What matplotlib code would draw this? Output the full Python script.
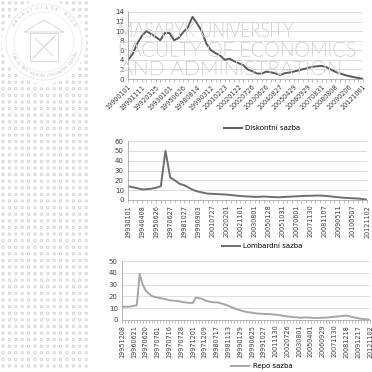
import numpy as np
import matplotlib
matplotlib.use("Agg")
import matplotlib.pyplot as plt
from matplotlib.textpath import TextPath
from matplotlib.patches import PathPatch, Circle, Polygon, Rectangle
from matplotlib.font_manager import FontProperties
from matplotlib.transforms import Affine2D

# discount rate (%), one value per category, label every 3rd category
disk_labels = ["19900101", "19901111", "19920325", "19930101", "19950626", "19980814",
               "19990312", "20010223", "20020122", "20020726", "20030626", "20040827",
               "20050429", "20060929", "20070831", "20080808", "20090206", "20121001"]
disk_values = [4, 5.2, 7.4, 9, 10, 9.4, 8.8, 8.1, 9.6, 9.6, 8.1, 8.6, 9.8, 10.8, 13,
               11.6, 10, 7.4, 6, 5.4, 4.9, 4, 4.25, 3.75, 3.3, 2.9, 2, 1.6, 1.15, 1.1,
               1.55, 1.4, 1.15, 0.85, 1.2, 1.35, 1.55, 1.8, 2.05, 2.3, 2.55, 2.65, 2.75,
               2.5, 2.0, 1.5, 1.15, 0.85, 0.6, 0.4, 0.2, 0.05]

# lombard rate (%)
lomb_labels = ["19930101", "19940408", "19950626", "19970627", "19981027", "19990903",
               "20010727", "20020201", "20021101", "20030801", "20050128", "20051031",
               "20070601", "20071130", "20081107", "20090511", "20100507", "20121102"]
lomb_values = [14, 13, 12, 10.75, 11, 11.5, 12.5, 14, 50, 23, 20, 16.5, 15, 12.5, 10,
               8.5, 7.5, 6.5, 6.25, 6, 5.75, 5.5, 5, 4.5, 4, 3.75, 3.5, 3.25, 3.25, 3.5,
               3.25, 3, 2.75, 3, 3.25, 3.5, 3.75, 4, 4.25, 4.25, 4.5, 4.5, 4.25, 3.75,
               3.25, 2.75, 2.25, 2, 1.75, 1.5, 1, 0.25]

# repo rate (%), label every 4th category
repo_labels = ["19951208", "19960621", "19970620", "19970701", "19970716", "19970728",
               "19971201", "19971209", "19980717", "19981113", "19990129", "19990625",
               "19991027", "20011130", "20020726", "20030801", "20050401", "20060929",
               "20071130", "20081218", "20091217", "20121102"]
repo_values = [11, 11.25, 11.25, 11.5, 12, 12.5, 39, 30, 25, 22.5, 20.5, 19.5, 19, 18.5,
               18, 17.5, 16.75, 16.5, 16.25, 16, 15.5, 15, 14.75, 14.5, 14.5, 19, 18.5,
               18, 16.75, 16, 15.25, 15, 15, 14.5, 13.75, 13, 12, 11, 10, 9, 8.25, 7.5,
               7, 6.5, 6.25, 5.75, 5.5, 5.25, 5.25, 5, 5, 4.75, 4.5, 4.25, 3.75, 3.5, 3,
               2.75, 2.5, 2.25, 2, 2, 2.25, 2, 2, 1.75, 1.75, 1.75, 2, 2, 2.25, 2.5, 2.75,
               3, 3.25, 3.5, 3.75, 3.25, 2.5, 2, 1.5, 1, 0.75, 0.5, 0.05]

W = 372.0
fig = plt.figure(figsize=(3.72, 3.72), dpi=100)

def box(left, top, right, bottom):
    return [left / W, 1 - bottom / W, (right - left) / W, (bottom - top) / W]

# --- background: dotted side strip and faculty seal ---
bg = fig.add_axes([0, 0, 1, 1], zorder=0)
bg.set_xlim(0, W)
bg.set_ylim(W, 0)
bg.axis("off")
gx, gy = np.meshgrid(np.arange(3, 90, 6.4), np.arange(3, W, 6.6))
bg.scatter(gx.ravel(), gy.ravel(), s=3.0, marker="o", facecolor="none",
           edgecolor="#cdcdcd", linewidths=0.6)
bg.add_patch(Circle((44, 42), 42, facecolor="white", edgecolor="none"))
bg.add_patch(Circle((44, 42), 38, facecolor="none", edgecolor="#e6e6e6", lw=0.6))
bg.add_patch(Circle((44, 42), 30, facecolor="none", edgecolor="#e6e6e6", lw=0.4))
bg.add_patch(Polygon([[24, 32], [44, 20], [64, 32]], closed=True, facecolor="none",
                     edgecolor="#d4d4d4", lw=0.6))
bg.add_patch(Rectangle((30, 33), 28, 28, facecolor="none", edgecolor="#d4d4d4", lw=0.6))
bg.plot([33, 55], [58, 36], color="#d4d4d4", lw=0.8)
bg.plot([35, 53], [38, 56], color="#dadada", lw=0.6)

def arc_text(txt, cx, cy, r, a0, a1, top=True):
    angs = np.linspace(a0, a1, len(txt))
    for ch, a in zip(txt, angs):
        x = cx + r * np.cos(np.radians(a))
        y = cy - r * np.sin(np.radians(a))
        rot = a - 90 if top else a + 90
        bg.text(x, y, ch, fontsize=3.2, color="#c4c4c4", rotation=rot,
                ha="center", va="center")

arc_text("MASARYKIANA BRUN", 44, 42, 34, 150, 30, top=True)
arc_text("FACULTAS RERUM OECONOMICARUM", 44, 42, 34, 200, 340, top=False)

# --- charts ---
line_kw = dict(lw=1.4, solid_joinstyle="round")

def style(ax, n, step, labels, ymax, ystep, rot):
    ax.set_xlim(0, n - 1)
    ax.set_ylim(0, ymax)
    ax.set_yticks(np.arange(0, ymax + 0.1, ystep))
    ax.set_xticks(np.arange(0, n, step))
    ax.set_xticks(np.arange(n), minor=True)
    if rot == 45:
        ax.set_xticklabels(labels, rotation=45, ha="right", rotation_mode="anchor")
    else:
        ax.set_xticklabels(labels, rotation=90, ha="center")
    ax.grid(axis="y", color="#d9d9d9", lw=0.6)
    ax.set_axisbelow(True)
    for s in ("top", "right"):
        ax.spines[s].set_visible(False)
    for s in ("left", "bottom"):
        ax.spines[s].set_color("#a6a6a6")
        ax.spines[s].set_linewidth(0.6)
    ax.tick_params(axis="y", length=0, labelsize=5, colors="#404040", pad=3)
    ax.tick_params(axis="x", which="both", length=2, width=0.5, color="#a6a6a6",
                   labelsize=4.7, labelcolor="#404040", pad=1.5)
    ax.set_facecolor("none")

ax1 = fig.add_axes(box(128, 12, 363, 79), zorder=2)
ax1.plot(np.arange(len(disk_values)), disk_values, color="#595959",
         label="Diskontní sazba", **line_kw)
style(ax1, len(disk_values), 3, disk_labels, 14, 2, 45)

ax2 = fig.add_axes(box(128, 141, 367, 200), zorder=2)
ax2.plot(np.arange(len(lomb_values)), lomb_values, color="#6e6e6e",
         label="Lombardní sazba", **line_kw)
style(ax2, len(lomb_values), 3, lomb_labels, 60, 10, 90)

ax3 = fig.add_axes(box(122, 261, 370, 320), zorder=2)
ax3.plot(np.arange(len(repo_values)), repo_values, color="#a6a6a6",
         label="Repo sazba", **line_kw)
style(ax3, len(repo_values), 4, repo_labels, 50, 10, 90)

for ax, yc in ((ax1, 128), (ax2, 246), (ax3, 366)):
    ax.legend(loc="center", bbox_to_anchor=(262 / W, 1 - yc / W),
              bbox_transform=fig.transFigure, frameon=False, fontsize=5,
              handlelength=2.6, handletextpad=0.5, borderpad=0)

# --- outlined watermark over the first chart ---
top = fig.add_axes([0, 0, 1, 1], zorder=5)
top.set_xlim(0, W)
top.set_ylim(W, 0)
top.axis("off")
fp = FontProperties(family="Lato", weight="light")
for txt, x0, x1, base, cap in (("MASARYK UNIVERSITY", 120, 293, 37, 14.5),
                               ("FACULTY OF ECONOMICS", 120, 355, 56.5, 14.5),
                               ("AND ADMINISTRATION", 120, 340, 75, 14)):
    tp = TextPath((0, 0), txt, size=20, prop=fp)
    ext = tp.get_extents()
    sx = (x1 - x0) / ext.width
    sy = cap / ext.height
    tr = Affine2D().translate(-ext.x0, -ext.y0).scale(sx, -sy).translate(x0, base)
    top.add_patch(PathPatch(tr.transform_path(tp), facecolor="none",
                            edgecolor="#d6d6d6", lw=0.35))

fig.savefig("out.png", dpi=100)
